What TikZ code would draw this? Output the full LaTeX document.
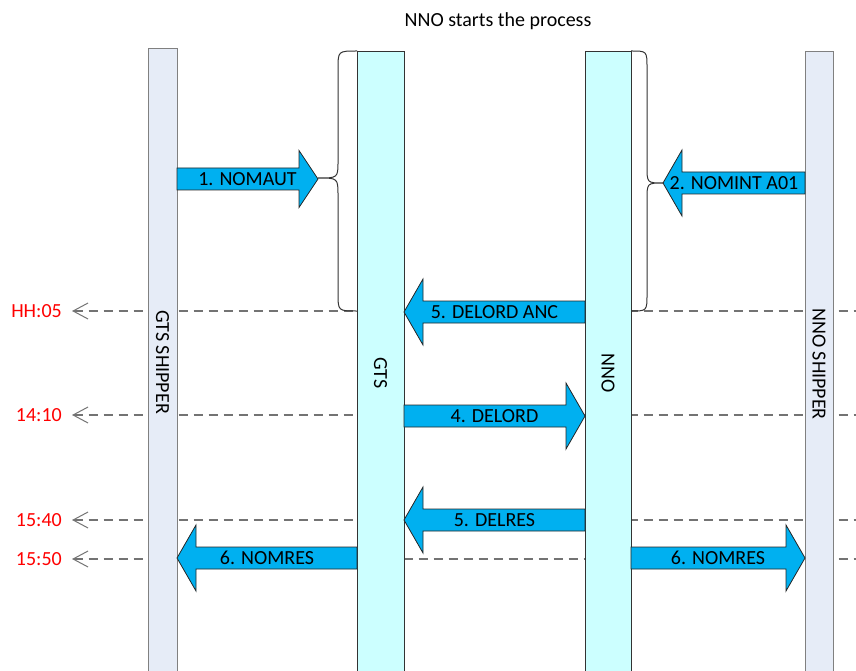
\documentclass[tikz,border=0pt]{standalone}
\usepackage{fontspec}
\setmainfont{Carlito}
\usetikzlibrary{arrows.meta}

\definecolor{msgblue}{HTML}{00B0F0}
\definecolor{shipfill}{HTML}{E6ECF7}
\definecolor{corefill}{HTML}{CCFFFF}
\definecolor{timered}{HTML}{FF0000}

\tikzset{
    msg/.style={draw=black!85, line width=0.8pt, fill=msgblue},
    timeline/.style={draw=black!55, line width=1.1pt, dash pattern=on 9pt off 6pt},
    lifebar/.style={draw=#1, line width=1pt, anchor=north, minimum height=640pt, inner sep=0pt},
    brace/.style={draw=black!80, line width=1pt},
    timelabel/.style={text=timered, anchor=east, inner sep=0pt}
}

% block arrow: [head half height] {from x}{to x}{y}{text}
\newcommand{\msgarrow}[5][33]{%
    \pgfmathsetmacro{\headx}{#3-19*sign(#3-#2)}
    \draw[msg] ({#2},{#4-11}) -- (\headx,{#4-11}) -- (\headx,{#4-#1}) -- ({#3},{#4})
        -- (\headx,{#4+#1}) -- (\headx,{#4+11}) -- ({#2},{#4+11}) -- cycle;
    \node at ({(#2+#3)/2},{#4}) {#5};
}

\begin{document}
\begin{tikzpicture}[x=1pt, y=-1pt, font=\fontsize{20}{24}\selectfont]
        \useasboundingbox (0,0) rectangle (856,671);

        \node (title) at (498,21) {NNO starts the process};

        % time marks
        \foreach \t/\y in {HH:05/311, 14:10/415, 15:40/520, 15:50/559} {
            \node[timelabel] (t\y) at (62,\y) {\t};
            \coordinate (e\y) at (860,\y);
            \draw[timeline, {Straight Barb[length=15pt, width=16pt, line width=1pt]}-] ([xshift=10pt]t\y.east) -- (e\y);
        }

        % lifelines
        \node[lifebar=black!50, fill=shipfill, minimum width=29pt] (gtsship) at (162.5,48) {};
        \node[lifebar=black!80, fill=corefill, minimum width=47pt] (gts) at (380.5,51) {};
        \node[lifebar=black!80, fill=corefill, minimum width=46pt] (nno) at (608,51) {};
        \node[lifebar=black!50, fill=shipfill, minimum width=28pt] (nnoship) at (819,51) {};

        \node[rotate=-90] (gtsshiplbl) at (162.5,362) {GTS SHIPPER};
        \node[rotate=-90] (gtslbl) at (380.5,373) {GTS};
        \node[rotate=-90] (nnolbl) at (608,373) {NNO};
        \node[rotate=-90] (nnoshiplbl) at (819,364) {NNO SHIPPER};

        % braces
        \draw[brace] (357,51) .. controls (338,51) .. (338,69) -- (338,161)
            .. controls (338,178) .. (318,178) .. controls (338,178) .. (338,196)
            -- (338,293) .. controls (338,311) .. (357,311);
        \draw[brace] (631,51) .. controls (647,51) .. (647,68) -- (647,166)
            .. controls (647,183) .. (663,183) .. controls (647,183) .. (647,200)
            -- (647,294) .. controls (647,311) .. (631,311);

        % messages
        \msgarrow[28.5]{177}{318}{179}{1. NOMAUT}
        \msgarrow{805}{663}{183}{2. NOMINT A01}
        \msgarrow{585}{404}{312}{5. DELORD ANC}
        \msgarrow{404}{585}{416}{4. DELORD}
        \msgarrow{585}{404}{520}{5. DELRES}
        \msgarrow{357}{177}{558}{6. NOMRES}
        \msgarrow{631}{805}{558}{6. NOMRES}
\end{tikzpicture}
\end{document}
